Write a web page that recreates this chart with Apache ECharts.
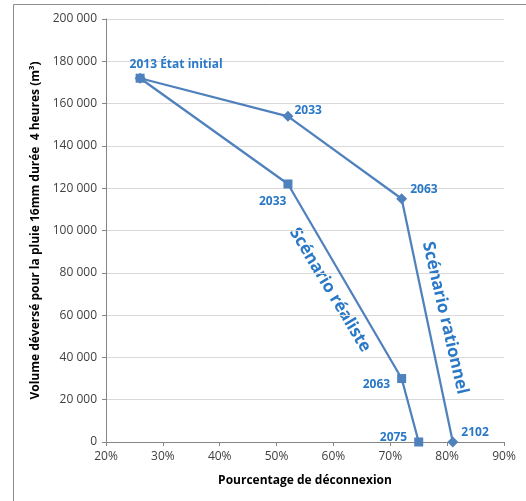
<!DOCTYPE html>
<html>
<head>
<meta charset="utf-8">
<script src="https://cdn.jsdelivr.net/npm/echarts@6/dist/echarts.min.js"></script>
<style>
  html, body { margin: 0; padding: 0; background: #fff; }
  #chart { width: 526px; height: 501px; }
</style>
</head>
<body>
<div id="chart"></div>
<script>
// Disconnection rate (%) and spilled volume (m³) per scenario and year
const realisteYears = ['2013 État initial', '2033', '2063', '2075'];
const realistePct = [26, 52, 72, 75];
const realisteVol = [172000, 122000, 30000, 0];

const rationnelYears = ['2013 État initial', '2033', '2063', '2102'];
const rationnelPct = [26, 52, 72, 81];
const rationnelVol = [172000, 154000, 115000, 0];

const xTicks = { min: 20, max: 90, step: 10 };
const yTicks = { min: 0, max: 200000, step: 20000 };

const lineColor = '#4F81BD';
const labelColor = '#2A78C6';
const textFont = '"Open Sans", "Noto Sans", sans-serif';

const labelBase = {
  show: true, color: labelColor, fontWeight: 'bold', fontSize: 12,
  fontFamily: textFont
};

// label placement per point (index-aligned with the arrays above)
const realisteLabelPlace = [
  { position: 'top', offset: [36, 2] },
  { position: 'left', offset: [8, 18] },
  { position: 'left', offset: [-2, 6] },
  { position: 'left', offset: [-2, -4] }
];
const rationnelLabelPlace = [
  null,
  { position: 'right', offset: [-4, -6] },
  { position: 'right', offset: [-2, -9] },
  { position: 'right', offset: [-2, -9] }
];

function buildData(pcts, vols, names, places) {
  return pcts.map((p, i) => {
    const item = { value: [p, vols[i]], name: names[i] };
    if (places[i]) {
      item.label = Object.assign({}, labelBase, places[i], { formatter: names[i] });
    } else {
      item.label = { show: false };
    }
    return item;
  });
}

function thousands(v) {
  return String(v).replace(/\B(?=(\d{3})+(?!\d))/g, ' ');
}

const chart = echarts.init(document.getElementById('chart'), null, { renderer: 'canvas' });

chart.setOption({
  animation: false,
  backgroundColor: '#fff',
  grid: { left: 106, right: 22, top: 19, bottom: 59, containLabel: false },
  xAxis: {
    type: 'value',
    min: xTicks.min, max: xTicks.max, interval: xTicks.step,
    name: 'Pourcentage de déconnexion',
    nameLocation: 'middle', nameGap: 33,
    nameTextStyle: { fontWeight: 'bold', fontSize: 12, color: '#000', fontFamily: textFont },
    axisLine: { show: true, lineStyle: { color: '#868686', width: 1 } },
    axisTick: { show: true, length: 4, lineStyle: { color: '#868686' } },
    axisLabel: { formatter: v => v + '%', color: '#404040', fontSize: 12, margin: 9, fontFamily: textFont },
    splitLine: { show: false }
  },
  yAxis: {
    type: 'value',
    min: yTicks.min, max: yTicks.max, interval: yTicks.step,
    name: 'Volume déversé pour la pluie 16mm durée  4 heures (m³)',
    nameLocation: 'middle', nameGap: 59, nameRotate: 90,
    nameTextStyle: { fontWeight: 'bold', fontSize: 12, color: '#000', fontFamily: textFont },
    axisLine: { show: true, lineStyle: { color: '#868686', width: 1 } },
    axisTick: { show: true, length: 4, lineStyle: { color: '#868686' } },
    axisLabel: { formatter: thousands, color: '#404040', fontSize: 12, margin: 9, fontFamily: textFont },
    splitLine: { show: true, lineStyle: { color: '#D9D9D9', width: 1 } }
  },
  series: [
    {
      name: 'Scénario réaliste',
      type: 'line',
      data: buildData(realistePct, realisteVol, realisteYears, realisteLabelPlace),
      symbol: 'rect', symbolSize: 9,
      lineStyle: { color: lineColor, width: 2.25 },
      itemStyle: { color: lineColor },
      z: 3
    },
    {
      name: 'Scénario rationnel',
      type: 'line',
      data: buildData(rationnelPct, rationnelVol, rationnelYears, rationnelLabelPlace),
      symbol: 'diamond', symbolSize: 11,
      lineStyle: { color: lineColor, width: 2.25 },
      itemStyle: { color: lineColor },
      z: 2
    }
  ],
  graphic: [
    {
      type: 'rect', silent: true, z: -1,
      shape: { x: 13.5, y: 4.5, width: 600, height: 600 },
      style: { fill: null, stroke: '#8C8C8C', lineWidth: 1 }
    },
    {
      type: 'text', x: 330, y: 290, rotation: -59 * Math.PI / 180,
      style: {
        text: 'Scénario réaliste', fill: labelColor, fontWeight: 'bold',
        fontSize: 17, fontFamily: textFont, align: 'center', verticalAlign: 'middle'
      }
    },
    {
      type: 'text', x: 445, y: 318, rotation: -77 * Math.PI / 180,
      style: {
        text: 'Scénario rationnel', fill: labelColor, fontWeight: 'bold',
        fontSize: 17, fontFamily: textFont, align: 'center', verticalAlign: 'middle'
      }
    }
  ]
});
</script>
</body>
</html>
